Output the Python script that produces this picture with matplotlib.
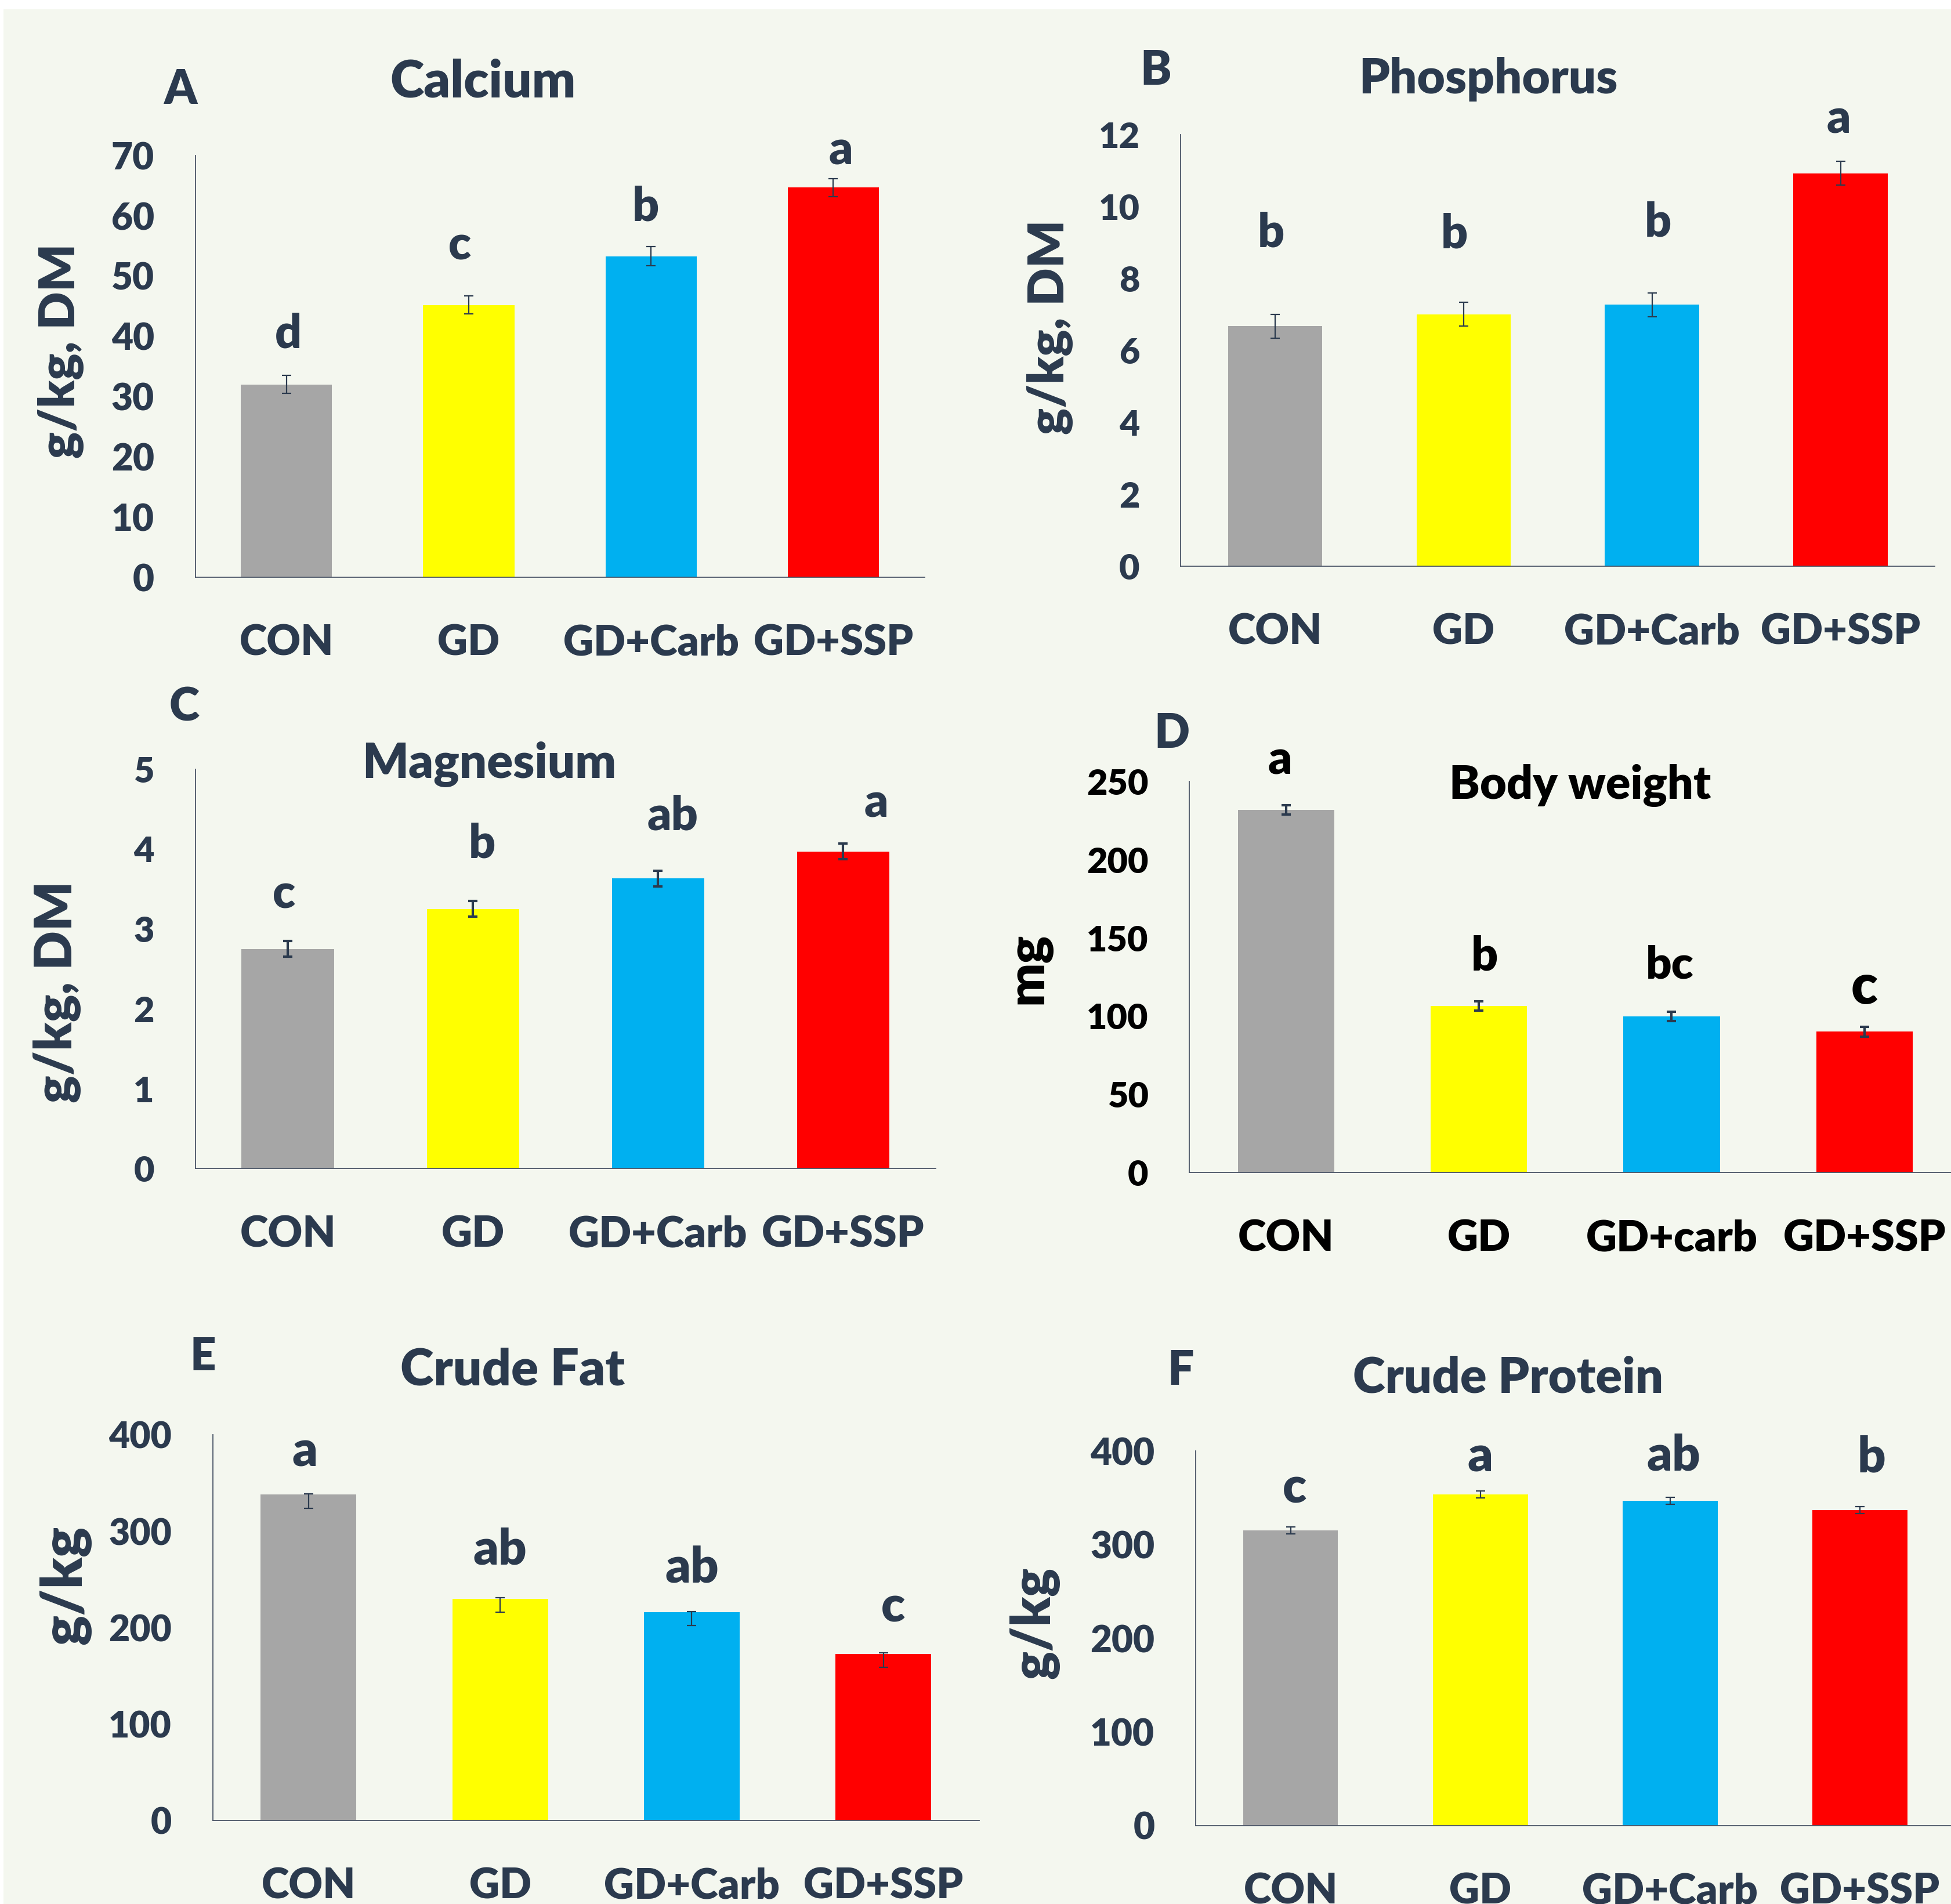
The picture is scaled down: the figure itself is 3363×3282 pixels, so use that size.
import matplotlib
matplotlib.use('Agg')
import matplotlib.pyplot as plt
from matplotlib.patches import Rectangle

plt.rcParams['font.family'] = ['Lato', 'DejaVu Sans']
plt.rcParams['font.weight'] = 'bold'
WEIGHT = 'heavy'

# ---------------- data ----------------
categories = ['CON', 'GD', 'GD+Carb', 'GD+SSP']
categories_bw = ['CON', 'GD', 'GD+carb', 'GD+SSP']

calcium = [32.0, 45.2, 53.3, 64.7]
calcium_err = [1.5, 1.5, 1.6, 1.5]
calcium_letters = ['d', 'c', 'b', 'a']
calcium_ticks = [0, 10, 20, 30, 40, 50, 60, 70]

phosphorus = [6.67, 7.0, 7.27, 10.92]
phosphorus_err = [0.33, 0.33, 0.33, 0.33]
phosphorus_letters = ['b', 'b', 'b', 'a']
phosphorus_ticks = [0, 2, 4, 6, 8, 10, 12]

magnesium = [2.75, 3.25, 3.63, 3.97]
magnesium_err = [0.1, 0.1, 0.1, 0.1]
magnesium_letters = ['c', 'b', 'ab', 'a']
magnesium_ticks = [0, 1, 2, 3, 4, 5]

body_weight = [232.0, 106.3, 99.8, 89.9]
body_weight_err = [3.0, 3.0, 3.0, 3.0]
body_weight_letters = ['a', 'b', 'bc', 'c']
body_weight_ticks = [0, 50, 100, 150, 200, 250]

crude_fat = [338.0, 230.0, 216.0, 173.0]
crude_fat_err_low = [14.0, 14.0, 14.0, 14.0]
crude_fat_err_high = [1.0, 1.0, 1.0, 1.0]
crude_fat_letters = ['a', 'ab', 'ab', 'c']
crude_fat_ticks = [0, 100, 200, 300, 400]

crude_protein = [315.0, 353.5, 346.6, 337.2]
crude_protein_err = [3.7, 3.7, 3.7, 3.7]
crude_protein_letters = ['c', 'a', 'ab', 'b']
crude_protein_ticks = [0, 100, 200, 300, 400]

# ---------------- styling ----------------
bar_colors = ['#A6A6A6', '#FFFF00', '#00B0F0', '#FF0000']
TXT = '#2B3A4E'
BG = '#F4F7EF'

W, H, DPI = 3363, 3282, 100
RW, RH = 1568.0, 1530.0   # layout reference units


def fx(x):
    return x / RW


def fy(y):
    return 1 - y / RH


fig = plt.figure(figsize=(W / DPI, H / DPI), dpi=DPI, facecolor='white')
fig.patches.append(Rectangle((6 / W, 0), 1, 1 - 16 / H, transform=fig.transFigure,
                             facecolor=BG, edgecolor='none', zorder=-10))


def panel(rect, values, errlow, errhigh, letters, letter_y, letter_dx, ticks,
          cats, color, tick_fs, xtick_fs, letter_fs, err_lw, letter_fs_list=None):
    l, t, r, b = rect
    ax = fig.add_axes([fx(l), fy(b), fx(r) - fx(l), fy(t) - fy(b)])
    ax.set_facecolor('none')
    x = list(range(len(values)))
    ax.bar(x, values, width=0.5, color=bar_colors, zorder=2)
    ax.errorbar(x, values, yerr=[errlow, errhigh], fmt='none', ecolor=TXT,
                elinewidth=err_lw, capsize=5.5, capthick=err_lw, zorder=3)
    ax.set_xlim(-0.5, 3.5)
    ax.set_ylim(ticks[0], ticks[-1])
    ax.set_yticks(ticks)
    ax.set_xticks(x)
    ax.set_xticklabels(cats)
    for s in ['top', 'right']:
        ax.spines[s].set_visible(False)
    for s in ['left', 'bottom']:
        ax.spines[s].set_color('#4A5566')
        ax.spines[s].set_linewidth(1.3)
    ax.tick_params(axis='y', length=0, pad=51, labelsize=tick_fs, labelcolor=color)
    ax.tick_params(axis='x', length=0, pad=58, labelsize=xtick_fs, labelcolor=color)
    for lab in ax.get_xticklabels() + ax.get_yticklabels():
        lab.set_fontweight(WEIGHT)
    for i, (lt, ly, dx) in enumerate(zip(letters, letter_y, letter_dx)):
        fs = letter_fs if letter_fs_list is None else letter_fs_list[i]
        ax.text(i + dx, ly, lt, ha='center', va='baseline', fontsize=fs,
                fontweight=WEIGHT, color=color, clip_on=False)
    return ax


def ftext(x, y, s, fs, color=TXT, rot=0, va='baseline'):
    fig.text(fx(x), fy(y), s, ha='center', va=va, fontsize=fs, fontweight=WEIGHT,
             color=color, rotation=rot)


# A Calcium
panel((157, 125, 743, 464), calcium, calcium_err, calcium_err, calcium_letters,
      [38.1, 52.7, 59.2, 68.5], [0.01, -0.05, -0.03, 0.04], calcium_ticks,
      categories, TXT, 46, 52, 58, 1.6)
ftext(145, 83.6, 'A', 58)
ftext(388, 78, 'Calcium', 64)
ftext(49, 282, 'g/kg, DM', 62, rot=90, va='center')

# B Phosphorus
panel((949, 108, 1555, 455), phosphorus, phosphorus_err, phosphorus_err, phosphorus_letters,
      [8.88, 8.84, 9.16, 12.04], [-0.02, -0.05, 0.03, -0.01], phosphorus_ticks,
      categories, TXT, 44, 52, 58, 1.6)
ftext(929, 68, 'B', 58)
ftext(1196, 75, 'Phosphorus', 60)
ftext(844, 263, 'g/kg, DM', 62, rot=90, va='center')

# C Magnesium
panel((157, 618, 752, 939), magnesium, magnesium_err, magnesium_err, magnesium_letters,
      [3.26, 3.89, 4.24, 4.40], [-0.02, 0.05, 0.08, 0.18], magnesium_ticks,
      categories, TXT, 44, 53, 58, 3.0)
ftext(148, 579, 'C', 57)
ftext(393, 625, 'Magnesium', 60)
ftext(46, 797, 'g/kg, DM', 64, rot=90, va='center')

# D Body weight
panel((956, 628, 1576, 942), body_weight, body_weight_err, body_weight_err, body_weight_letters,
      [254.7, 129.2, 124.0, 107.8], [-0.03, 0.03, -0.01, 0.0], body_weight_ticks,
      categories_bw, 'black', 44, 53, 58, 3.0, letter_fs_list=[58, 58, 56, 68])
ftext(942, 601, 'D', 58)
ftext(1270, 642, 'Body weight', 57, color='black')
ftext(826, 778, 'mg', 64, color='black', rot=90, va='center')

# E Crude Fat
panel((171, 1153, 787, 1463), crude_fat, crude_fat_err_low, crude_fat_err_high, crude_fat_letters,
      [367.6, 265.5, 246.9, 206.1], [-0.02, 0.0, 0.0, 0.05], crude_fat_ticks,
      categories, TXT, 45, 52, 61, 1.6)
ftext(163, 1101, 'E', 56)
ftext(412, 1113, 'Crude Fat', 63)
ftext(52.5, 1274, 'g/kg', 70, rot=90, va='center')

# F Crude Protein
panel((961, 1166, 1571, 1467), crude_protein, crude_protein_err, crude_protein_err,
      crude_protein_letters, [344.5, 378.4, 379.6, 377.2], [0.02, 0.0, 0.02, 0.06],
      crude_protein_ticks, categories, TXT, 46, 52, 61, 1.6)
ftext(949, 1113, 'F', 58)
ftext(1212, 1119, 'Crude Protein', 61)
ftext(831, 1304, 'g/kg', 66, rot=90, va='center')

fig.savefig('out.png', dpi=DPI, facecolor=fig.get_facecolor())
